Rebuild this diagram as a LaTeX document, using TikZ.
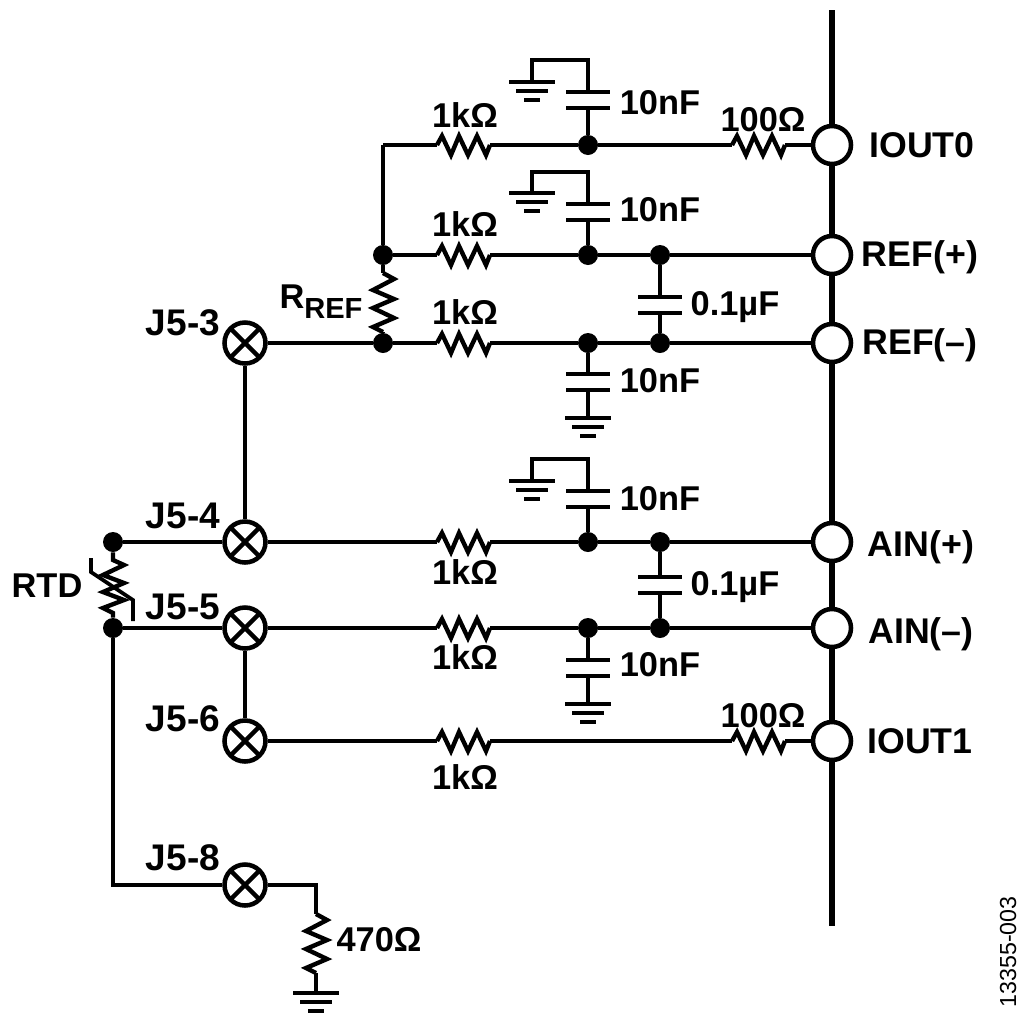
\documentclass[tikz,border=0pt]{standalone}
\usepackage{fontspec}
\setmainfont{Liberation Sans}
\begin{document}
\begin{tikzpicture}[x=0.75pt,y=-0.75pt,
  wire/.style={line width=3.3pt,line join=miter,line cap=butt},
  bus/.style={line width=4pt},
  dotj/.style={circle,fill=black,draw=none,inner sep=0pt,minimum size=15pt},
  term/.style={circle,draw=black,fill=white,line width=3.4pt,inner sep=0pt,minimum size=28.5pt},
  xterm/.style={circle,draw=black,fill=white,line width=3.4pt,inner sep=0pt,minimum size=30.75pt,
    path picture={\draw[line width=3.3pt,black]
      (path picture bounding box.north west)--(path picture bounding box.south east)
      (path picture bounding box.north east)--(path picture bounding box.south west);}},
  lab/.style={font=\fontsize{25.8pt}{28pt}\selectfont\bfseries,inner sep=0pt},
  labj/.style={font=\fontsize{27.8pt}{30pt}\selectfont\bfseries,inner sep=0pt},
  labt/.style={font=\fontsize{26.8pt}{29pt}\selectfont\bfseries,inner sep=0pt},
  pics/hres/.style={code={
    \coordinate (-l) at (-28,0); \coordinate (-r) at (25,0);
    \draw[wire] (-28,0)--(-23,-9)--(-14,10)--(-6,-9)--(3,10)--(12,-9)--(21,10)--(25,0);
  }},
  pics/vres/.style={code={
    \coordinate (-t) at (0,-30); \coordinate (-b) at (0,29);
    \draw[wire] (0,-30)--(11,-24)--(-10,-13)--(11,-4)--(-10,5)--(11,15)--(-10,24)--(0,29);
  }},
  pics/capa/.style={code={
    \coordinate (-t) at (0,-8); \coordinate (-b) at (0,8);
    \draw[wire] (-22,-8)--(22,-8) (-22,8)--(22,8);
  }},
  pics/gnd/.style={code={
    \coordinate (-t) at (0,0);
    \draw[wire] (-23,0)--(23,0) (-16,9)--(16,9) (-8,18)--(8,18);
  }}
]
\useasboundingbox (0,0) rectangle (1024,1018);
\fill[white] (0,0) rectangle (1024,1018);

% bus
\coordinate (bt) at (832,10);
\coordinate (bb) at (832,926);
\draw[bus] (bt)--(bb);

% terminals
\node[term] (T0) at (832,145) {};
\node[term] (Rp) at (832,255) {};
\node[term] (Rm) at (832,343) {};
\node[term] (Ap) at (832,542) {};
\node[term] (Am) at (832,628) {};
\node[term] (T1) at (832,741) {};

\node[xterm] (J3) at (245,343) {};
\node[xterm] (J4) at (245,542) {};
\node[xterm] (J5) at (245,628) {};
\node[xterm] (J6) at (245,741) {};
\node[xterm] (J8) at (245,885) {};

% junctions
\coordinate (c0) at (383,145);
\node[dotj] (d0) at (588,145) {};
\node[dotj] (a1) at (383,255) {};
\node[dotj] (a2) at (588,255) {};
\node[dotj] (a3) at (660,255) {};
\node[dotj] (b1) at (383,343) {};
\node[dotj] (b2) at (588,343) {};
\node[dotj] (b3) at (660,343) {};
\node[dotj] (e1) at (113,542) {};
\node[dotj] (e2) at (588,542) {};
\node[dotj] (e3) at (660,542) {};
\node[dotj] (f1) at (113,628) {};
\node[dotj] (f2) at (588,628) {};
\node[dotj] (f3) at (660,628) {};
\coordinate (g1) at (113,885);
\coordinate (h1) at (316,885);

% resistors
\pic (r1) at (465,145) {hres};
\pic (r2) at (760,145) {hres};
\pic (r3) at (465,255) {hres};
\pic (r4) at (465,343) {hres};
\pic (r5) at (465,542) {hres};
\pic (r6) at (465,628) {hres};
\pic (r7) at (465,741) {hres};
\pic (r8) at (760,741) {hres};
\pic (r9) at (383,303) {vres};
\pic (r10) at (316,944) {vres};

% capacitors
\pic (c1) at (588,100) {capa};
\pic (c2) at (588,212) {capa};
\pic (c3) at (660,305) {capa};
\pic (c4) at (588,382) {capa};
\pic (c5) at (588,499) {capa};
\pic (c6) at (660,585) {capa};
\pic (c7) at (588,668) {capa};

% grounds
\pic (g1a) at (532,82) {gnd};
\pic (g2a) at (532,193) {gnd};
\pic (g4a) at (588,418) {gnd};
\pic (g5a) at (532,481) {gnd};
\pic (g7a) at (588,704) {gnd};
\pic (g10a) at (316,993) {gnd};

% wires
\draw[wire] (c0)--(r1-l) (r1-r)--(d0)--(r2-l) (r2-r)--(T0);
\draw[wire] (c0)--(a1)--(r9-t) (r9-b)--(b1);
\draw[wire] (a1)--(r3-l) (r3-r)--(a2)--(a3)--(Rp);
\draw[wire] (J3)--(b1)--(r4-l) (r4-r)--(b2)--(b3)--(Rm);
\draw[wire] (J3)--(J4);
\draw[wire] (e1)--(J4) (J4)--(r5-l) (r5-r)--(e2)--(e3)--(Ap);
\draw[wire] (f1)--(J5) (J5)--(r6-l) (r6-r)--(f2)--(f3)--(Am);
\draw[wire] (J5)--(J6) (J6)--(r7-l) (r7-r)--(r8-l) (r8-r)--(T1);
\draw[wire] (f1)--(g1)--(J8) (J8)--(h1)--(r10-t) (r10-b)--(g10a-t);

\draw[wire] (d0)--(c1-b);
\draw[wire] (c1-t)--(588,60)--(532,60)--(g1a-t);
\draw[wire] (a2)--(c2-b);
\draw[wire] (c2-t)--(588,172)--(532,172)--(g2a-t);
\draw[wire] (a3)--(c3-t) (c3-b)--(b3);
\draw[wire] (b2)--(c4-t) (c4-b)--(g4a-t);
\draw[wire] (e2)--(c5-b);
\draw[wire] (c5-t)--(588,459)--(532,459)--(g5a-t);
\draw[wire] (e3)--(c6-t) (c6-b)--(f3);
\draw[wire] (f2)--(c7-t) (c7-b)--(g7a-t);

% RTD
\coordinate (rt) at (113,560);
\coordinate (rb) at (113,613);
\draw[wire] (e1)--(rt)--(124,565)--(103,575)--(124,583)--(103,592)--(124,600)--(103,608)--(rb)--(f1);
\draw[line width=2.8pt] (91,558)--(91,572)--(133,600)--(133,621);

% labels
\node[lab] (l1) at (465,115) {1kΩ};
\node[lab] (l2) at (465,224) {1kΩ};
\node[lab] (l3) at (465,312) {1kΩ};
\node[lab] (l4) at (465,572) {1kΩ};
\node[lab] (l5) at (465,657) {1kΩ};
\node[lab] (l6) at (465,777) {1kΩ};
\node[lab] (l7) at (763,120) {100Ω};
\node[lab] (l8) at (763,716) {100Ω};
\node[lab] (l9) at (660,103) {10nF};
\node[lab] (l10) at (660,210) {10nF};
\node[lab] (l11) at (660,381) {10nF};
\node[lab] (l12) at (660,499) {10nF};
\node[lab] (l13) at (660,665) {10nF};
\node[lab] (l14) at (735,307) {0.1µF};
\node[lab] (l15) at (735,587) {0.1µF};
\node[lab] (l16) at (379,940) {470Ω};
\node[lab] (l17) at (47,586) {RTD};
\node[labj] (l18) at (183,323) {J5-3};
\node[labj] (l19) at (183,516) {J5-4};
\node[labj] (l20) at (183,607) {J5-5};
\node[labj] (l21) at (183,719) {J5-6};
\node[labj] (l22) at (183,858) {J5-8};
\node[labt] (l23) at (922,145) {IOUT0};
\node[labt] (l24) at (920,257) {REF(+)};
\node[labt] (l25) at (920,345) {REF(–)};
\node[labt] (l26) at (921,547) {AIN(+)};
\node[labt] (l27) at (921,634) {AIN(–)};
\node[labt] (l28) at (920,741) {IOUT1};
\node[lab] (l29) at (321,302) {R\raisebox{-7.5pt}{\fontsize{21.8pt}{24pt}\selectfont REF}};
\node[inner sep=0pt,rotate=90,font=\fontsize{17.4pt}{20pt}\selectfont] (l30) at (1008,952) {13355-003};
\end{tikzpicture}
\end{document}
